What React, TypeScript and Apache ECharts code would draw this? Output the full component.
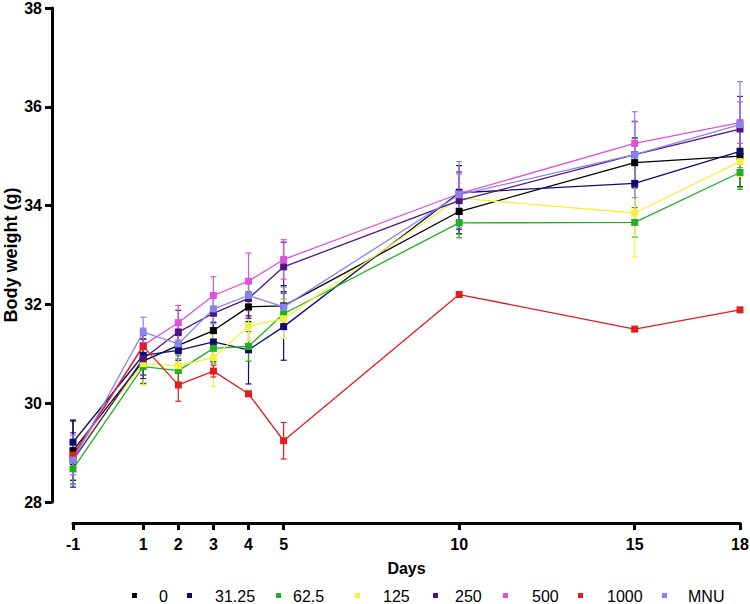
import React, { useEffect, useRef } from "react";
import * as echarts from "echarts";

const days = [-1, 1, 2, 3, 4, 5, 10, 15, 18];
const xTicks = [-1, 1, 2, 3, 4, 5, 10, 15, 18];
const groupNames = ["0", "31.25", "62.5", "125", "250", "500", "1000", "MNU"];
const groupColors = ["#000000", "#0c0c72", "#22b022", "#f2f23a", "#4e1480", "#e050dc", "#e41c1c", "#8585f0"];

const mean0 = [29.04, 30.85, 31.17, 31.47, 31.95, 31.97, 33.88, 34.87, 35.0];
const mean31 = [29.21, 30.97, 31.07, 31.24, 31.08, 31.55, 34.26, 34.45, 35.1];
const mean62 = [28.67, 30.74, 30.66, 31.11, 31.15, 31.81, 33.65, 33.66, 34.67];
const mean125 = [28.94, 30.8, 30.76, 30.92, 31.56, 31.71, 34.15, 33.85, 34.89];
const mean250 = [28.85, 30.9, 31.44, 31.82, 32.12, 32.76, 34.1, 35.03, 35.55];
const mean500 = [28.9, 31.17, 31.63, 32.18, 32.47, 32.91, 34.24, 35.26, 35.68];
const mean1000 = [28.95, 31.15, 30.37, 30.65, 30.19, 29.24, 32.2, 31.5, 31.89];
const meanMNU = [28.85, 31.44, 31.2, 31.91, 32.18, 31.95, 34.22, 35.03, 35.64];

const sd0 = [0.6, 0.45, 0.3, 0.35, 0.3, 0.41, 0.45, 0.5, 0.62];
const sd31 = [0.45, 0.4, 0.3, 0.4, 0.69, 0.68, 0.55, 0.6, 0.45];
const sd62 = [0.3, 0.35, 0.3, 0.3, 0.3, 0.3, 0.3, 0.3, 0.34];
const sd125 = [0.3, 0.43, 0.45, 0.58, 0.3, 0.4, 0.3, 0.89, 0.3];
const sd250 = [0.55, 0.4, 0.44, 0.4, 0.4, 0.5, 0.58, 0.67, 0.66];
const sd500 = [0.35, 0.35, 0.35, 0.38, 0.57, 0.4, 0.4, 0.45, 0.42];
const sd1000 = [0.25, 0.3, 0.33, 0.12, 0.05, 0.37, 0, 0, 0];
const sdMNU = [0.5, 0.3, 0.3, 0.3, 0.3, 0.4, 0.67, 0.87, 0.87];

const means = [mean0, mean31, mean62, mean125, mean250, mean500, mean1000, meanMNU];
const sds = [sd0, sd31, sd62, sd125, sd250, sd500, sd1000, sdMNU];

// legend layout (pixel x of swatch and of text start)
const legendSwatchX = [132, 187, 276, 355, 433, 503, 578, 662];
const legendTextX = [159, 215, 293, 383, 455, 532, 607, 688];
const legendY = 596;

const FONT = "Arial, 'Liberation Sans', Helvetica, sans-serif";

export default function App() {
  const ref = useRef<HTMLDivElement>(null);
  useEffect(() => {
    if (!ref.current) return;
    const chart = echarts.init(ref.current, null, { renderer: "svg" });

    const errorSeries = groupNames.map((name, gi) => ({
      type: "custom",
      name: name + " err",
      clip: false,
      silent: true,
      z: 1,
      data: days.map((d, i) => [d, means[gi][i] - sds[gi][i], means[gi][i] + sds[gi][i]]),
      renderItem: (params: any, api: any) => {
        const x = api.value(0);
        const lo = api.coord([x, api.value(1)]);
        const hi = api.coord([x, api.value(2)]);
        const half = 3;
        const style = { stroke: groupColors[gi], lineWidth: 1.2 };
        return {
          type: "group",
          children: [
            { type: "line", shape: { x1: lo[0], y1: lo[1], x2: hi[0], y2: hi[1] }, style },
            { type: "line", shape: { x1: lo[0] - half, y1: lo[1], x2: lo[0] + half, y2: lo[1] }, style },
            { type: "line", shape: { x1: hi[0] - half, y1: hi[1], x2: hi[0] + half, y2: hi[1] }, style },
          ],
        };
      },
    }));

    const lineSeries = groupNames.map((name, gi) => ({
      type: "line",
      name,
      data: days.map((d, i) => [d, means[gi][i]]),
      symbol: "rect",
      symbolSize: 7,
      clip: false,
      z: 2,
      lineStyle: { color: groupColors[gi], width: 1.3 },
      itemStyle: { color: groupColors[gi] },
    }));

    const legendElements: any[] = [];
    groupNames.forEach((name, gi) => {
      legendElements.push({
        type: "rect",
        shape: { x: legendSwatchX[gi], y: legendY - 3, width: 5, height: 5 },
        style: { fill: groupColors[gi] },
      });
      legendElements.push({
        type: "text",
        x: legendTextX[gi],
        y: legendY,
        style: {
          text: name,
          fill: "#000",
          font: `16px ${FONT}`,
          textVerticalAlign: "middle",
          verticalAlign: "middle",
        },
      });
    });

    chart.setOption({
      animation: false,
      backgroundColor: "#ffffff",
      grid: { left: 73, right: 10, top: 8, bottom: 102, containLabel: false, outerBoundsMode: "none" },
      graphic: legendElements,
      xAxis: {
        type: "value",
        min: -1,
        max: 18,
        offset: 21,
        name: "Days",
        nameLocation: "middle",
        nameGap: 37,
        nameTextStyle: { fontFamily: FONT, fontSize: 16, fontWeight: "bold", color: "#000" },
        axisLine: { show: true, onZero: false, lineStyle: { color: "#000", width: 3 } },
        axisTick: { show: true, length: 7, lineStyle: { color: "#000", width: 3 }, customValues: xTicks },
        axisLabel: { fontFamily: FONT, fontSize: 16, fontWeight: "bold", color: "#000", margin: 13, customValues: xTicks },
        splitLine: { show: false },
      },
      yAxis: {
        type: "value",
        min: 28,
        max: 38,
        interval: 2,
        offset: 21,
        name: "Body weight (g)",
        nameLocation: "middle",
        nameGap: 32,
        nameMoveOverlap: false,
        nameTextStyle: { fontFamily: FONT, fontSize: 18, fontWeight: "bold", color: "#000" },
        axisLine: { show: true, onZero: false, lineStyle: { color: "#000", width: 3 } },
        axisTick: { show: true, length: 7, lineStyle: { color: "#000", width: 3 } },
        axisLabel: { fontFamily: FONT, fontSize: 16, fontWeight: "bold", color: "#000", margin: 10 },
        splitLine: { show: false },
      },
      series: [...errorSeries, ...lineSeries],
    });
    return () => chart.dispose();
  }, []);
  return (
    <div
      ref={ref}
      style={{ position: "absolute", left: 0, top: 0, width: 750, height: 604, background: "#fff" }}
    />
  );
}
